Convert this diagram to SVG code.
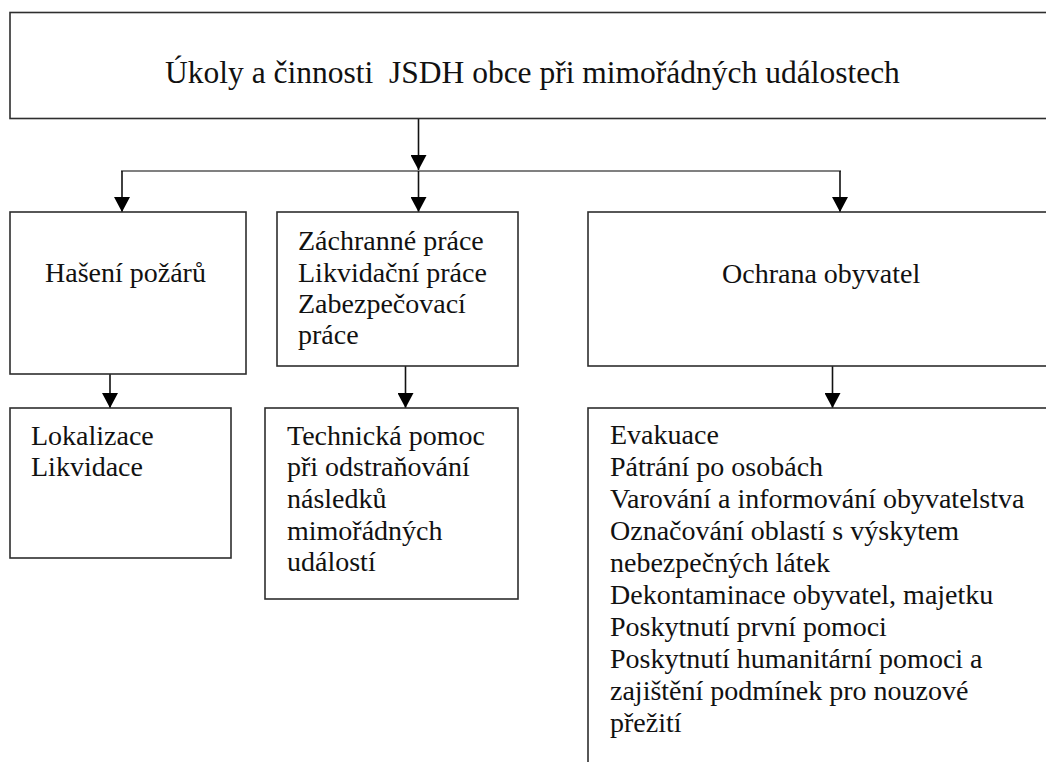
<svg xmlns="http://www.w3.org/2000/svg" width="1046" height="762" viewBox="0 0 1046 762">
<defs>
<style>
.box{fill:#fff;stroke:#2e2e2e;stroke-width:1.6}
.t{font-size:28px;fill:#111;white-space:pre}
.title{font-size:31.5px}
.ln{fill:none;stroke:#111;stroke-width:1.6}
.hz{fill:none;stroke:#808080;stroke-width:2.2}
</style>
<marker id="ah" markerUnits="userSpaceOnUse" viewBox="0 0 15 16" markerWidth="15" markerHeight="16" refX="15" refY="8" orient="auto">
<path d="M0,0 L15,8 L0,16 z" fill="#000"/>
</marker>
</defs>
<rect width="1046" height="762" fill="#fff"/>
<g id="connectors">
<line class="hz" x1="121" y1="171" x2="841" y2="171"/>
<line class="ln" x1="418.5" y1="119" x2="418.5" y2="170" marker-end="url(#ah)"/>
<line class="ln" x1="122" y1="171" x2="122" y2="212" marker-end="url(#ah)"/>
<line class="ln" x1="418.5" y1="171" x2="418.5" y2="212" marker-end="url(#ah)"/>
<line class="ln" x1="840" y1="171" x2="840" y2="212" marker-end="url(#ah)"/>
<line class="ln" x1="110" y1="374" x2="110" y2="408" marker-end="url(#ah)"/>
<line class="ln" x1="405.5" y1="366" x2="405.5" y2="408" marker-end="url(#ah)"/>
<line class="ln" x1="832.5" y1="366" x2="832.5" y2="408" marker-end="url(#ah)"/>
</g>
<g font-family="Liberation Serif, Times New Roman, DejaVu Serif, Noto Serif, serif">
<g id="root">
<rect class="box" x="10" y="12.5" width="1060" height="106"/>
<text class="t title" x="165" y="83" xml:space="preserve">Úkoly a činnosti  JSDH obce při mimořádných událostech</text>
</g>
<g id="haseni">
<rect class="box" x="10" y="212" width="236" height="162"/>
<text class="t" x="45" y="282">Hašení požárů</text>
</g>
<g id="prace">
<rect class="box" x="277" y="212" width="241" height="154"/>
<text class="t" x="298" y="250">Záchranné práce</text>
<text class="t" x="298" y="281.5">Likvidační práce</text>
<text class="t" x="298" y="313">Zabezpečovací</text>
<text class="t" x="298" y="344">práce</text>
</g>
<g id="ochrana">
<rect class="box" x="588" y="212" width="480" height="154"/>
<text class="t" x="722" y="283">Ochrana obyvatel</text>
</g>
<g id="lokalizace">
<rect class="box" x="10" y="408" width="221" height="150"/>
<text class="t" x="31" y="445">Lokalizace</text>
<text class="t" x="31" y="476">Likvidace</text>
</g>
<g id="technicka">
<rect class="box" x="265" y="408" width="253" height="191"/>
<text class="t" x="287" y="445">Technická pomoc</text>
<text class="t" x="287" y="476">při odstraňování</text>
<text class="t" x="287" y="508">následků</text>
<text class="t" x="287" y="540">mimořádných</text>
<text class="t" x="287" y="571">událostí</text>
</g>
<g id="evakuace">
<rect class="box" x="588" y="408" width="480" height="380"/>
<text class="t" x="610" y="444">Evakuace</text>
<text class="t" x="610" y="476">Pátrání po osobách</text>
<text class="t" x="610" y="508">Varování a informování obyvatelstva</text>
<text class="t" x="610" y="540">Označování oblastí s výskytem</text>
<text class="t" x="610" y="572">nebezpečných látek</text>
<text class="t" x="610" y="604">Dekontaminace obyvatel, majetku</text>
<text class="t" x="610" y="636">Poskytnutí první pomoci</text>
<text class="t" x="610" y="668">Poskytnutí humanitární pomoci a</text>
<text class="t" x="610" y="700">zajištění podmínek pro nouzové</text>
<text class="t" x="610" y="732">přežití</text>
</g>
</g>
</svg>
